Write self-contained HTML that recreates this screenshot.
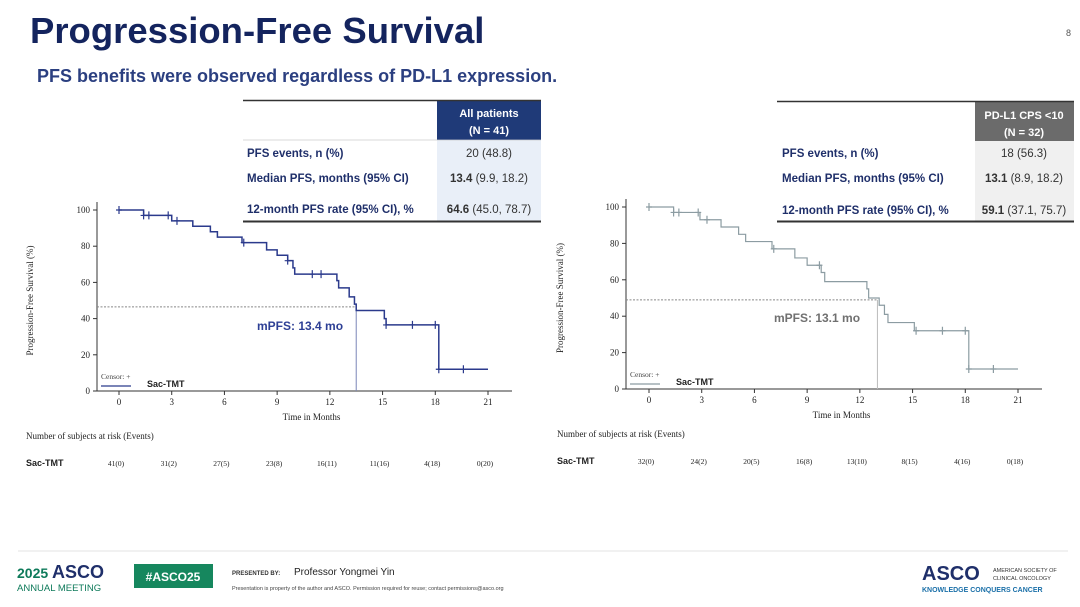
<!DOCTYPE html>
<html><head><meta charset="utf-8"><style>
html,body{margin:0;padding:0;background:#fff;width:1080px;height:607px;overflow:hidden}
svg{display:block}
</style></head><body>
<svg id="s" width="1080" height="607" viewBox="0 0 1080 607" font-family="Liberation Sans, sans-serif">
<text x="30" y="43" font-size="36.5" font-weight="bold" fill="#14245e">Progression-Free Survival</text>
<text x="1066" y="36" font-size="9" fill="#555">8</text>
<text x="37" y="82" font-size="18" font-weight="bold" fill="#2b3f80">PFS benefits were observed regardless of PD-L1 expression.</text>

<!-- left table -->
<rect x="437" y="101" width="104" height="39" fill="#1f3a78"/>
<rect x="437" y="140" width="104" height="81" fill="#e9eff8"/>
<line x1="243" y1="100.5" x2="541" y2="100.5" stroke="#333" stroke-width="1.5"/>
<line x1="243" y1="221.5" x2="541" y2="221.5" stroke="#333" stroke-width="2"/>
<line x1="243" y1="140" x2="541" y2="140" stroke="#ccc" stroke-width="0.7"/>
<text x="489" y="117" font-size="11" font-weight="bold" fill="#fff" text-anchor="middle">All patients</text>
<text x="489" y="134" font-size="11" font-weight="bold" fill="#fff" text-anchor="middle">(N = 41)</text>
<g font-size="11.5" font-weight="bold" fill="#1f2f6a">
<text x="247" y="157">PFS events, n (%)</text>
<text x="247" y="182">Median PFS, months (95% CI)</text>
<text x="247" y="213">12-month PFS rate (95% CI), %</text>
</g>
<g font-size="11.5" fill="#333" text-anchor="middle">
<text x="489" y="157">20 (48.8)</text>
<text x="489" y="182"><tspan font-weight="bold">13.4</tspan> (9.9, 18.2)</text>
<text x="489" y="213"><tspan font-weight="bold">64.6</tspan> (45.0, 78.7)</text>
</g>

<!-- right table -->
<rect x="975" y="102" width="99" height="39" fill="#6b6b6b"/>
<rect x="975" y="141" width="99" height="80" fill="#f0f0f0"/>
<line x1="777" y1="101.5" x2="1074" y2="101.5" stroke="#333" stroke-width="1.5"/>
<line x1="777" y1="221.5" x2="1074" y2="221.5" stroke="#333" stroke-width="2"/>
<text x="1024" y="119" font-size="11" font-weight="bold" fill="#fff" text-anchor="middle">PD-L1 CPS &lt;10</text>
<text x="1024" y="136" font-size="11" font-weight="bold" fill="#fff" text-anchor="middle">(N = 32)</text>
<g font-size="11.5" font-weight="bold" fill="#1f2f6a">
<text x="782" y="157">PFS events, n (%)</text>
<text x="782" y="182">Median PFS, months (95% CI)</text>
<text x="782" y="214">12-month PFS rate (95% CI), %</text>
</g>
<g font-size="11.5" fill="#333" text-anchor="middle">
<text x="1024" y="157">18 (56.3)</text>
<text x="1024" y="182"><tspan font-weight="bold">13.1</tspan> (8.9, 18.2)</text>
<text x="1024" y="214"><tspan font-weight="bold">59.1</tspan> (37.1, 75.7)</text>
</g>

<g id="charts"></g>

<!-- footer -->
<line x1="18" y1="551" x2="1068" y2="551" stroke="#e3e3e3" stroke-width="1"/>
<text x="17" y="578" font-size="14" font-weight="bold" fill="#0e7a5a">2025 <tspan fill="#1f2f6a" font-size="18">ASCO</tspan></text>
<text x="17" y="591" font-size="9.5" fill="#0e7a5a">ANNUAL MEETING</text>
<rect x="134" y="564" width="79" height="24" fill="#16875e"/>
<text x="173" y="581" font-size="12" font-weight="bold" fill="#fff" text-anchor="middle">#ASCO25</text>
<text x="232" y="575" font-size="6" font-weight="bold" fill="#333">PRESENTED BY:</text>
<text x="294" y="575" font-size="10" fill="#222">Professor Yongmei Yin</text>
<text x="232" y="590" font-size="5.5" fill="#444">Presentation is property of the author and ASCO. Permission required for reuse; contact permissions@asco.org</text>
<text x="922" y="580" font-size="20" font-weight="bold" fill="#1f2f6a">ASCO</text>
<text x="993" y="572" font-size="5.5" fill="#333">AMERICAN SOCIETY OF</text>
<text x="993" y="580" font-size="5.5" fill="#333">CLINICAL ONCOLOGY</text>
<text x="922" y="592" font-size="7" font-weight="bold" fill="#1a6fa8">KNOWLEDGE CONQUERS CANCER</text>
</svg>
<script>
var NS="http://www.w3.org/2000/svg",G=document.getElementById("charts");
function el(t,a,txt){var e=document.createElementNS(NS,t);for(var k in a)e.setAttribute(k,a[k]);if(txt!=null)e.textContent=txt;G.appendChild(e);return e;}
function chart(c){
 var X=function(m){return c.x0+(c.x21-c.x0)*m/21},Y=function(p){return c.yb+(c.y100-c.yb)*p/100};
 el("line",{x1:c.ax,y1:c.y100-8,x2:c.ax,y2:c.yb,stroke:"#333","stroke-width":1});
 el("line",{x1:c.ax,y1:c.yb,x2:c.axe,y2:c.yb,stroke:"#333","stroke-width":1});
 for(var p=0;p<=100;p+=20){el("line",{x1:c.ax-4,y1:Y(p),x2:c.ax,y2:Y(p),stroke:"#333"});el("text",{x:c.ax-7,y:Y(p)+3,"font-size":9,"text-anchor":"end","font-family":"Liberation Serif, serif",fill:"#222"},p);}
 for(var m=0;m<=21;m+=3){el("line",{x1:X(m),y1:c.yb,x2:X(m),y2:c.yb+4,stroke:"#333"});el("text",{x:X(m),y:c.yb+14,"font-size":9,"text-anchor":"middle","font-family":"Liberation Serif, serif",fill:"#222"},m);}
 el("text",{x:(c.x0+c.x21)/2+8,y:c.yb+29,"font-size":9,"text-anchor":"middle","font-family":"Liberation Serif, serif",fill:"#222"},"Time in Months");
 var yl=(c.yb+c.y100)/2;
 el("text",{x:c.ylx,y:yl,"font-size":9,"text-anchor":"middle","font-family":"Liberation Serif, serif",fill:"#222",transform:"rotate(-90 "+c.ylx+" "+yl+")"},"Progression-Free Survival (%)");
 el("line",{x1:c.ax,y1:Y(c.med),x2:X(c.mx),y2:Y(c.med),stroke:"#888","stroke-width":1,"stroke-dasharray":"2,1.5"});
 el("line",{x1:X(c.mx),y1:Y(c.med),x2:X(c.mx),y2:c.yb,stroke:c.vcol,"stroke-width":1});
 var d="M"+X(0)+" "+Y(100);
 c.steps.forEach(function(s){d+=" H"+X(s[0])+" V"+Y(s[1]);});
 d+=" H"+X(21);
 el("path",{d:d,fill:"none",stroke:c.col,"stroke-width":c.sw});
 function val(m){var v=100;c.steps.forEach(function(s){if(s[0]<=m)v=s[1];});return v;}
 c.cens.forEach(function(m){var x=X(m),y=Y(val(m));el("path",{d:"M"+x+" "+(y-4)+" V"+(y+4)+" M"+(x-3)+" "+y+" H"+(x+3),stroke:c.col,"stroke-width":1.2});});
 el("text",{x:c.mtx,y:c.mty,"font-size":12,"font-weight":"bold",fill:c.mcol},c.mlab);
 el("text",{x:c.ax+4,y:c.yb-12,"font-size":7.5,"font-family":"Liberation Serif, serif",fill:"#444"},"Censor: +");
 el("line",{x1:c.ax+4,y1:c.yb-5,x2:c.ax+34,y2:c.yb-5,stroke:c.col,"stroke-width":1.2});
 el("text",{x:c.ax+50,y:c.yb-4,"font-size":9,"font-weight":"bold",fill:"#222"},"Sac-TMT");
 el("text",{x:c.rlx,y:c.yb+48,"font-size":9,"font-family":"Liberation Serif, serif",fill:"#222"},"Number of subjects at risk (Events)");
 el("text",{x:c.rlx,y:c.yb+75,"font-size":9,"font-weight":"bold",fill:"#222"},"Sac-TMT");
 c.risk.forEach(function(r,i){el("text",{x:X(i*3)-3,y:c.yb+75,"font-size":7.5,"text-anchor":"middle","font-family":"Liberation Serif, serif",fill:"#222"},r);});
}
chart({ax:97,axe:512,x0:119,x21:488,yb:391,y100:210,ylx:33,rlx:26,col:"#2b3a8c",sw:1.5,vcol:"#7a86b8",med:46.5,mx:13.5,
 mcol:"#2d3f95",mlab:"mPFS: 13.4 mo",mtx:257,mty:330,
 steps:[[1.4,97],[3.0,94],[4.2,91],[5.2,88],[5.6,85],[7.0,82],[8.4,78],[9.0,75],[9.6,72],[9.9,68],[10.0,64.6],[12.4,61],[12.5,57],[13.1,52],[13.4,48],[13.5,44.5],[15.1,40],[15.2,36.5],[18.2,12]],
 cens:[0,1.4,1.7,2.8,3.3,7.1,9.6,11,11.5,15.2,16.7,18,18.2,19.6],
 risk:["41(0)","31(2)","27(5)","23(8)","16(11)","11(16)","4(18)","0(20)"]});
chart({ax:626,axe:1042,x0:649,x21:1018,yb:389,y100:207,ylx:563,rlx:557,col:"#8c9ca2",sw:1.2,vcol:"#bbb",med:49,mx:13.0,
 mcol:"#707070",mlab:"mPFS: 13.1 mo",mtx:774,mty:322,
 steps:[[1.4,97],[2.9,93],[4.1,89],[5.1,85],[5.5,81],[7.0,77],[8.3,72],[9.0,68],[9.8,64],[10.0,59],[12.4,55],[12.5,50],[13.1,46],[13.4,41],[13.6,36.5],[15.1,32],[18.2,11]],
 cens:[0,1.4,1.7,2.8,3.3,7.1,9.7,15.2,16.7,18,18.2,19.6],
 risk:["32(0)","24(2)","20(5)","16(8)","13(10)","8(15)","4(16)","0(18)"]});
</script>
</body></html>
